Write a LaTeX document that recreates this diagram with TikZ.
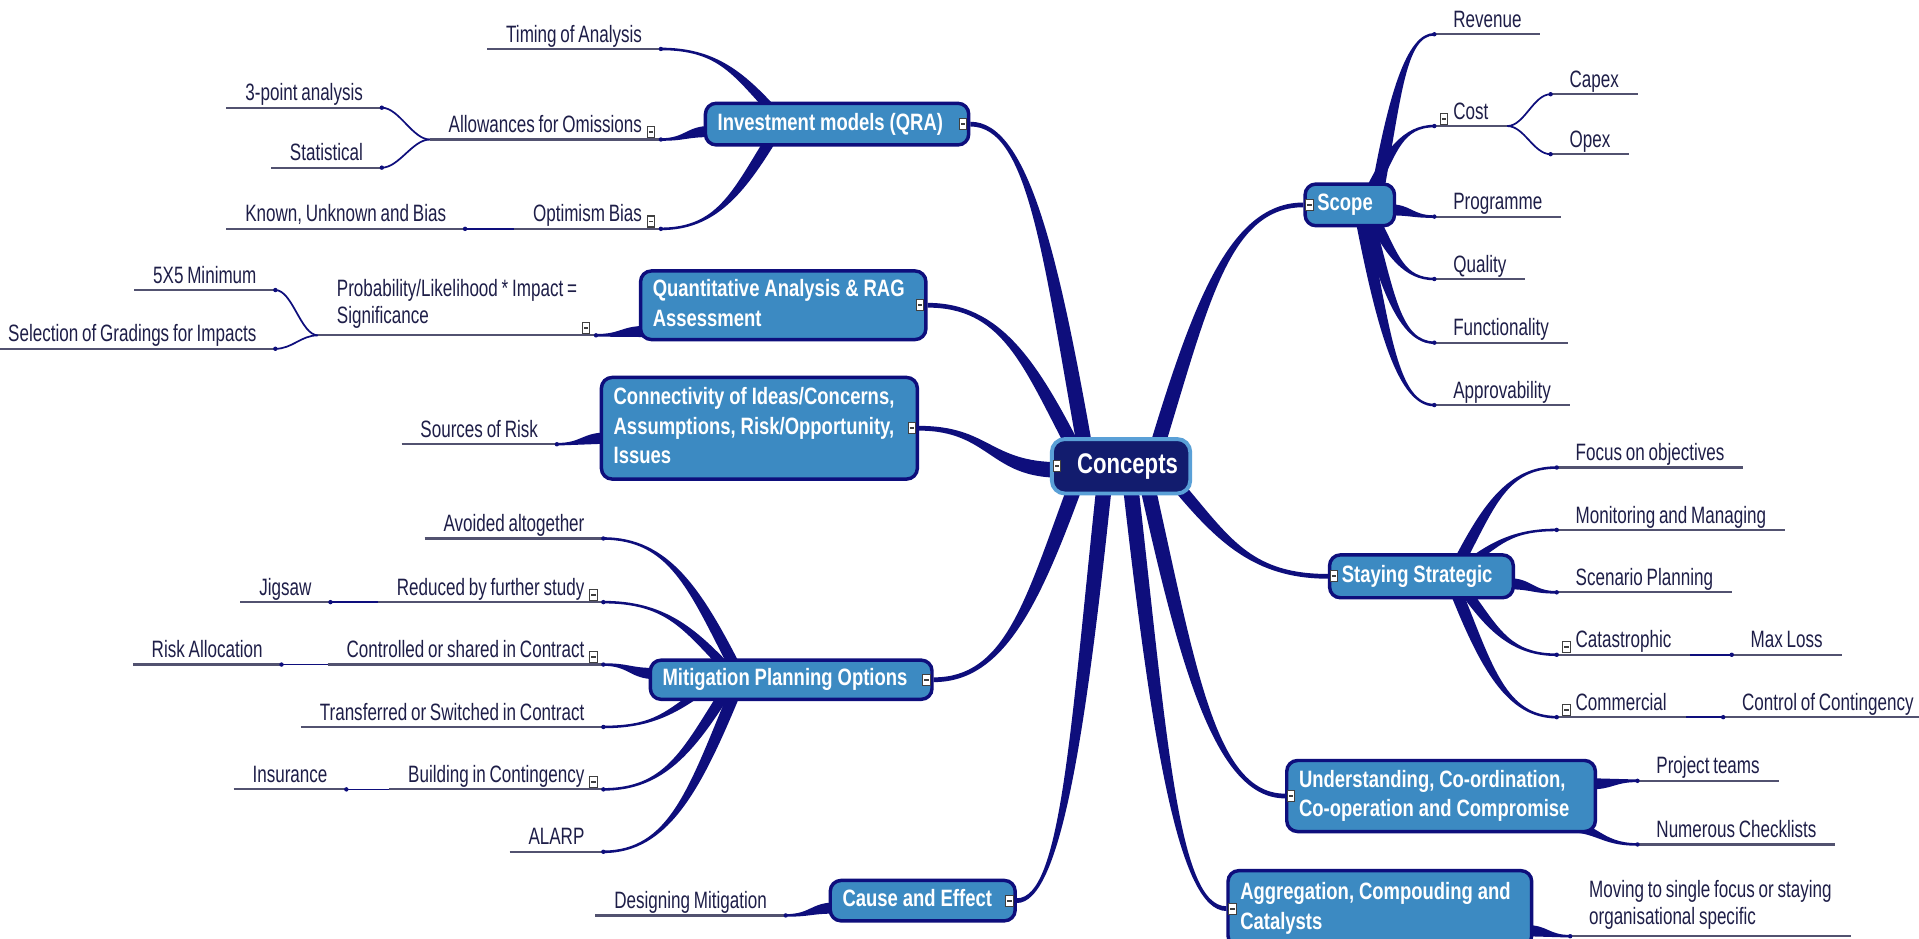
\documentclass[tikz,border=0pt]{standalone}
\usepackage{fontspec}
\usetikzlibrary{calc}
\newfontfamily\leaffont{Liberation Sans}[FakeStretch=0.72, WordSpace=0.8]
\newfontfamily\topicfont{Liberation Sans}[FakeStretch=0.78]
\newcommand{\leafsize}{\leaffont\fontsize{5.5}{6.3}\selectfont}
\newcommand{\topicsize}{\topicfont\bfseries\fontsize{5.5}{6.9}\selectfont}
\newcommand{\toptext}[1]{\noindent\spaceskip=1.15pt plus 0.2pt\relax\begin{tabular}{@{}l@{}}#1\end{tabular}}
\definecolor{navy}{RGB}{14,14,124}
\definecolor{topicblue}{RGB}{60,138,194}
\definecolor{centrefill}{RGB}{18,28,110}
\definecolor{centreedge}{RGB}{90,160,215}
\definecolor{leaftext}{RGB}{30,30,72}
\definecolor{lineg}{RGB}{82,82,112}
\pgfdeclarelayer{bg}
\pgfsetlayers{bg,main}
\newcommand{\vbranch}[4]{%
  \fill[branch] let \p1=(#1), \p2=(#2), \n1={sign(\x2-\x1)*sign(\y2-\y1)} in
    (\x1-#3,\y1) .. controls ({\x1-#3+0.3*(\x2-\x1)},{\y1+0.6*(\y2-\y1)}) and ({\x2+0.5*(\x1-\x2)},\y2+\n1*#4) .. (\x2,\y2+\n1*#4)
    -- (\x2,\y2-\n1*#4) .. controls ({\x2+0.5*(\x1-\x2)},\y2-\n1*#4) and ({\x1+#3+0.3*(\x2-\x1)},{\y1+0.6*(\y2-\y1)}) .. (\x1+#3,\y1) -- cycle;}
\newcommand{\hbranch}[4]{%
  \fill[branch] let \p1=(#1), \p2=(#2) in
    (\x1,\y1+#3) .. controls ({0.5*(\x1+\x2)},\y1+#3) and ({0.5*(\x1+\x2)},\y2+#4) .. (\x2,\y2+#4)
    -- (\x2,\y2-#4) .. controls ({0.5*(\x1+\x2)},\y2-#4) and ({0.5*(\x1+\x2)},\y1-#3) .. (\x1,\y1-#3) -- cycle;}
\begin{document}
\begin{tikzpicture}[x=0.01cm,y=-0.01cm]
	\tikzstyle{branch}=[fill=navy]
	\tikzstyle{twig}=[draw=navy, line width=0.4pt]
	\tikzstyle{uline}=[draw=lineg, line width=0.5pt]
	\tikzstyle{leaf}=[font=\leafsize, text=leaftext, inner xsep=4.2pt, inner ysep=1.4pt, text depth=0pt]
	\tikzstyle{leafm}=[font=\leafsize, text=leaftext, inner xsep=4.2pt, inner ysep=1.4pt, align=left]
	\tikzstyle{ulL}=[anchor=south east, append after command={(\tikzlastnode.south west) edge[uline] (\tikzlastnode.south east)}]
	\tikzstyle{ulR}=[anchor=south west, append after command={(\tikzlastnode.south west) edge[uline] (\tikzlastnode.south east)}]
	\tikzstyle{topic}=[draw=navy, line width=0.8pt, fill=topicblue, rounded corners=2.5pt, text=white, font=\topicsize, anchor=north west, inner xsep=0.1cm, inner ysep=0pt]
	\tikzstyle{centre}=[draw=centreedge, line width=0.9pt, fill=centrefill, rounded corners=3pt, text=white, font=\topicfont\bfseries\fontsize{6.6}{8}\selectfont, minimum width=1.13cm, minimum height=0.42cm, inner xsep=2pt]
	\tikzstyle{fold}=[draw=black!75, fill=white, line width=0.25pt, minimum width=0.06cm, minimum height=0.09cm, inner sep=0pt, path picture={\draw[line width=0.45pt] ([xshift=0.35pt]path picture bounding box.west) -- ([xshift=-0.35pt]path picture bounding box.east);}]
	\useasboundingbox (0,0) rectangle (1568,767);

	\node[centre] (cc) at (916,381) {\hspace{3pt}Concepts};
	\node[fold] (cc-f) at ($(cc.west)+(6,0)$) {};

	\node[topic, text width=1.95cm, minimum height=0.34cm] (inv) at (575,83) {\toptext{Investment models (QRA)}};
	\node[topic, text width=2.13cm, minimum height=0.56cm] (qua) at (522,220) {\toptext{Quantitative Analysis \& RAG\\Assessment}};
	\node[topic, text width=2.38cm, minimum height=0.83cm] (con) at (490,307) {\toptext{Connectivity of Ideas/Concerns,\\Assumptions, Risk/Opportunity,\\Issues}};
	\node[topic, text width=2.10cm, minimum height=0.32cm] (mit) at (530,538) {\toptext{Mitigation Planning Options}};
	\node[topic, text width=1.31cm, minimum height=0.33cm] (cau) at (677,718) {\toptext{Cause and Effect}};
	\node[topic, text width=0.53cm, minimum height=0.34cm] (sco) at (1065,149) {\toptext{Scope}};
	\node[topic, text width=1.30cm, minimum height=0.35cm] (sta) at (1085,452) {\toptext{Staying Strategic}};
	\node[topic, text width=2.32cm, minimum height=0.58cm] (und) at (1050,620) {\toptext{Understanding, Co-ordination,\\Co-operation and Compromise}};
	\node[topic, text width=2.28cm, minimum height=0.62cm] (agg) at (1002,710) {\toptext{Aggregation, Compouding and\\Catalysts}};
	\node[fold] (inv-f) at ($(inv.east)+(-6,0)$) {};
	\node[fold] (qua-f) at ($(qua.east)+(-6,0)$) {};
	\node[fold] (con-f) at ($(con.east)+(-6,0)$) {};
	\node[fold] (mit-f) at ($(mit.east)+(-6,0)$) {};
	\node[fold] (cau-f) at ($(cau.east)+(-6,0)$) {};
	\node[fold] (sco-f) at ($(sco.west)+(5,0)$) {};
	\node[fold] (sta-f) at ($(sta.west)+(5,0)$) {};
	\node[fold] (und-f) at ($(und.west)+(5,0)$) {};
	\node[fold] (agg-f) at ($(agg.west)+(5,0)$) {};

	\node[leaf, ulL] (tim) at (540,40) {Timing of Analysis};
	\node[leaf, ulL] (alw) at (540,114) {Allowances for Omissions};
	\node[leaf, ulL] (tpa) at (312,88) {3-point analysis};
	\node[leaf, ulL] (stl) at (312,137) {Statistical};
	\node[leaf, ulL] (opt) at (540,187) {Optimism Bias};
	\node[leaf, ulL] (kno) at (380,187) {Known, Unknown and Bias};
	\node[leafm, ulL] (pro) at (487,274) {Probability/Likelihood * Impact =\\Significance};
	\node[leaf, ulL] (fiv) at (225,237) {5X5 Minimum};
	\node[leaf, ulL] (sel) at (225,285) {Selection of Gradings for Impacts};
	\node[leaf, ulL] (sou) at (455,363) {Sources of Risk};
	\node[leaf, ulL] (avo) at (493,440) {Avoided altogether};
	\node[leaf, ulL] (red) at (493,492) {Reduced by further study};
	\node[leaf, ulL] (jig) at (270,492) {Jigsaw};
	\node[leaf, ulL] (ctl) at (493,543) {Controlled or shared in Contract};
	\node[leaf, ulL] (ris) at (230,543) {Risk Allocation};
	\node[leaf, ulL] (tra) at (493,594) {Transferred or Switched in Contract};
	\node[leaf, ulL] (bui) at (493,645) {Building in Contingency};
	\node[leaf, ulL] (ins) at (283,645) {Insurance};
	\node[leaf, ulL] (ala) at (493,696) {ALARP};
	\node[leaf, ulL] (des) at (642,748) {Designing Mitigation};

	\node[leaf, ulR] (rev) at (1172,28) {Revenue};
	\node[leaf, ulR] (cst) at (1172,103) {Cost};
	\node[leaf, ulR] (cap) at (1267,77) {Capex};
	\node[leaf, ulR] (opx) at (1267,126) {Opex};
	\node[leaf, ulR] (prg) at (1172,177) {Programme};
	\node[leaf, ulR] (qly) at (1172,228) {Quality};
	\node[leaf, ulR] (fnc) at (1172,280) {Functionality};
	\node[leaf, ulR] (apv) at (1172,331) {Approvability};
	\node[leaf, ulR] (foc) at (1272,382) {Focus on objectives};
	\node[leaf, ulR] (mon) at (1272,433) {Monitoring and Managing};
	\node[leaf, ulR] (sce) at (1272,484) {Scenario Planning};
	\node[leaf, ulR] (cat) at (1272,535) {Catastrophic};
	\node[leaf, ulR] (mxl) at (1415,535) {Max Loss};
	\node[leaf, ulR] (cmm) at (1272,586) {Commercial};
	\node[leaf, ulR] (ccn) at (1408,586) {Control of Contingency};
	\node[leaf, ulR] (prj) at (1338,638) {Project teams};
	\node[leaf, ulR] (num) at (1338,690) {Numerous Checklists};
	\node[leafm, ulR] (mov) at (1283,765) {Moving to single focus or staying\\organisational specific};

	\node[fold] (alw-f) at ($(alw.south east)+(-8,-6)$) {};
	\node[fold] (opt-f) at ($(opt.south east)+(-8,-6)$) {};
	\node[fold] (pro-f) at ($(pro.south east)+(-8,-6)$) {};
	\node[fold] (red-f) at ($(red.south east)+(-8,-6)$) {};
	\node[fold] (ctl-f) at ($(ctl.south east)+(-8,-6)$) {};
	\node[fold] (bui-f) at ($(bui.south east)+(-8,-6)$) {};
	\node[fold] (cst-f) at ($(cst.south west)+(8,-6)$) {};
	\node[fold] (cat-f) at ($(cat.south west)+(8,-6)$) {};
	\node[fold] (cmm-f) at ($(cmm.south west)+(8,-6)$) {};

	\begin{pgfonlayer}{bg}
	\fill[white] (0,0) rectangle (1568,767);
	\vbranch{$(cc.north)+(-30,6)$}{inv.east}{1.8pt}{0.55pt}
	\vbranch{$(cc.north)+(-40,6)$}{qua.east}{1.8pt}{0.55pt}
	\hbranch{$(cc.west)+(8,3)$}{con.east}{1.8pt}{0.55pt}
	\vbranch{$(cc.south)+(-38,-6)$}{mit.east}{1.8pt}{0.55pt}
	\vbranch{$(cc.south)+(-14,-6)$}{cau.east}{1.8pt}{0.55pt}
	\vbranch{$(cc.north)+(30,6)$}{sco.west}{1.8pt}{0.55pt}
	\vbranch{$(cc.south)+(48,-6)$}{sta.west}{1.8pt}{0.55pt}
	\vbranch{$(cc.south)+(22,-6)$}{und.west}{1.8pt}{0.55pt}
	\vbranch{$(cc.south)+(8,-6)$}{agg.west}{1.8pt}{0.55pt}

	\vbranch{$(inv.north west)+(55,6)$}{tim.south east}{1.5pt}{0.3pt}
	\hbranch{$(inv.west)+(6,6)$}{alw.south east}{1.3pt}{0.3pt}
	\vbranch{$(inv.south west)+(55,-6)$}{opt.south east}{1.5pt}{0.3pt}
	\hbranch{$(qua.south west)+(6,-8)$}{pro.south east}{1.3pt}{0.3pt}
	\hbranch{$(con.west)+(6,8)$}{sou.south east}{1.3pt}{0.3pt}
	\vbranch{$(mit.north west)+(70,6)$}{avo.south east}{1.5pt}{0.3pt}
	\vbranch{$(mit.north west)+(62,6)$}{red.south east}{1.5pt}{0.3pt}
	\hbranch{$(mit.west)+(6,-5)$}{ctl.south east}{1.3pt}{0.3pt}
	\vbranch{$(mit.south west)+(40,-6)$}{tra.south east}{1.5pt}{0.3pt}
	\vbranch{$(mit.south west)+(62,-6)$}{bui.south east}{1.5pt}{0.3pt}
	\vbranch{$(mit.south west)+(70,-6)$}{ala.south east}{1.5pt}{0.3pt}
	\hbranch{$(cau.west)+(6,6)$}{des.south east}{1.3pt}{0.3pt}

	\vbranch{$(sco.north east)+(-15,6)$}{rev.south west}{1.5pt}{0.3pt}
	\vbranch{$(sco.north east)+(-20,6)$}{cst.south west}{1.5pt}{0.3pt}
	\hbranch{$(sco.east)+(-6,4)$}{prg.south west}{1.3pt}{0.3pt}
	\vbranch{$(sco.south east)+(-18,-6)$}{qly.south west}{1.5pt}{0.3pt}
	\vbranch{$(sco.south east)+(-23,-6)$}{fnc.south west}{1.5pt}{0.3pt}
	\vbranch{$(sco.south east)+(-28,-6)$}{apv.south west}{1.5pt}{0.3pt}
	\vbranch{$(sta.north east)+(-45,6)$}{foc.south west}{1.5pt}{0.3pt}
	\vbranch{$(sta.north east)+(-35,6)$}{mon.south west}{1.5pt}{0.3pt}
	\hbranch{$(sta.east)+(-6,6)$}{sce.south west}{1.3pt}{0.3pt}
	\vbranch{$(sta.south east)+(-40,-6)$}{cat.south west}{1.5pt}{0.3pt}
	\vbranch{$(sta.south east)+(-48,-6)$}{cmm.south west}{1.5pt}{0.3pt}
	\hbranch{$(und.east)+(-6,-10)$}{prj.south west}{1.3pt}{0.3pt}
	\hbranch{$(und.south east)+(-30,-6)$}{num.south west}{1.3pt}{0.3pt}
	\hbranch{$(agg.east)+(-6,18)$}{mov.south west}{1.3pt}{0.3pt}

	\draw[twig] (alw.south west) .. controls +(-14,0) and +(14,0) .. (tpa.south east);
	\draw[twig] (alw.south west) .. controls +(-14,0) and +(14,0) .. (stl.south east);
	\draw[twig] (opt.south west) -- (kno.south east);
	\draw[twig] (pro.south west) .. controls +(-14,0) and +(14,0) .. (fiv.south east);
	\draw[twig] (pro.south west) .. controls +(-14,0) and +(14,0) .. (sel.south east);
	\draw[twig] (red.south west) -- (jig.south east);
	\draw[twig] (ctl.south west) -- (ris.south east);
	\draw[twig] (bui.south west) -- (ins.south east);
	\draw[twig] (cst.south east) .. controls +(14,0) and +(-14,0) .. (cap.south west);
	\draw[twig] (cst.south east) .. controls +(14,0) and +(-14,0) .. (opx.south west);
	\draw[twig] (cat.south east) -- (mxl.south west);
	\draw[twig] (cmm.south east) -- (ccn.south west);
	\end{pgfonlayer}

	\foreach \n in {tim,alw,tpa,stl,opt,kno,pro,fiv,sel,sou,avo,red,jig,ctl,ris,tra,bui,ins,ala,des}
		\fill[navy] (\n.south east) circle (1.8);
	\foreach \n in {rev,cst,cap,opx,prg,qly,fnc,apv,foc,mon,sce,cat,mxl,cmm,ccn,prj,num,mov}
		\fill[navy] (\n.south west) circle (1.8);
\end{tikzpicture}
\end{document}
